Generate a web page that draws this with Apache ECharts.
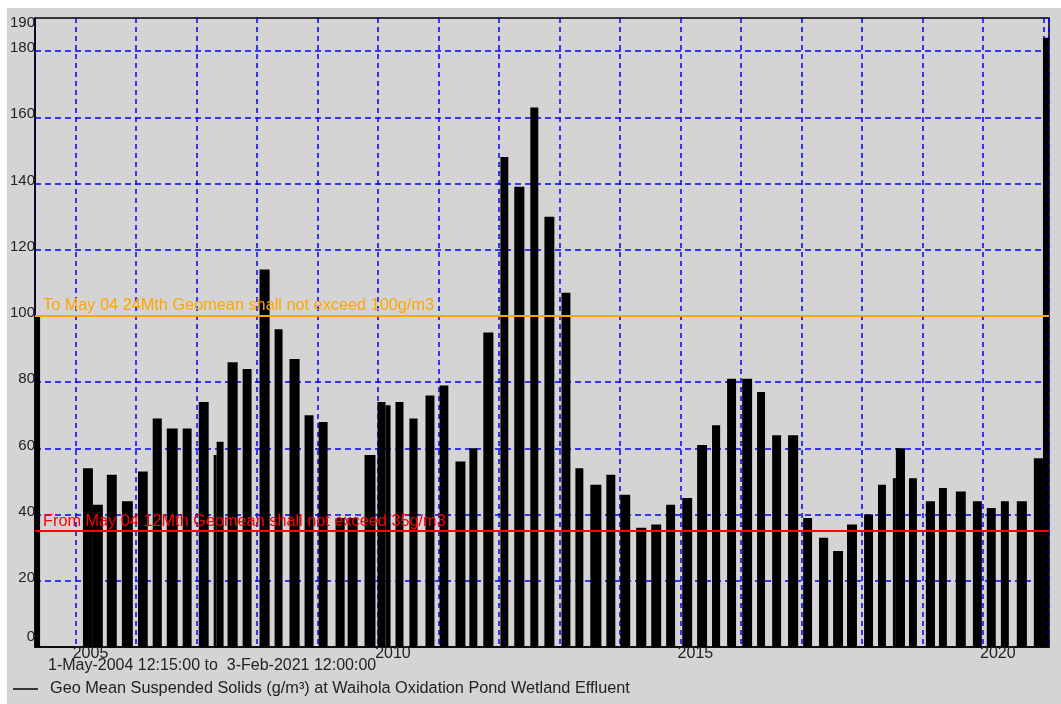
<!DOCTYPE html>
<html>
<head>
<meta charset="utf-8">
<script src="https://cdn.jsdelivr.net/npm/echarts@6/dist/echarts.min.js"></script>
<style>
  html, body { margin: 0; padding: 0; background: #ffffff; }
  #chart { position: absolute; left: 7px; top: 8px; width: 1054px; height: 696px; }
</style>
</head>
<body>
<div id="chart"></div>
<script>
// Geo mean suspended solids, one bar per sampling period (start, end, value g/m3)
const periodStart = [
  '2004-05-01', '2005-02-15', '2005-04-16', '2005-07-09', '2005-10-08',
  '2006-01-13', '2006-04-12', '2006-07-06', '2006-10-10',
  '2007-01-15', '2007-04-15', '2007-05-03', '2007-07-08', '2007-10-07',
  '2008-01-17', '2008-04-17', '2008-07-16', '2008-10-15',
  '2009-01-08', '2009-04-20', '2009-07-02', '2009-10-12', '2009-12-29',
  '2010-02-16', '2010-04-17', '2010-07-10', '2010-10-15',
  '2011-01-08', '2011-04-14', '2011-07-07', '2011-09-29',
  '2012-01-10', '2012-04-03', '2012-07-09', '2012-10-02',
  '2013-01-13', '2013-04-07', '2013-07-06', '2013-10-11',
  '2014-01-03', '2014-04-09', '2014-07-09', '2014-10-07',
  '2015-01-12', '2015-04-12', '2015-07-11', '2015-10-10',
  '2016-01-09', '2016-04-08', '2016-07-08', '2016-10-12',
  '2017-01-11', '2017-04-17', '2017-07-11', '2017-10-03',
  '2018-01-14', '2018-04-08', '2018-07-07', '2018-07-25', '2018-10-12',
  '2019-01-22', '2019-04-11', '2019-07-22', '2019-11-02',
  '2020-01-25', '2020-04-19', '2020-07-24', '2020-11-04', '2020-12-29'
];
const periodEnd = [
  '2004-06-01', '2005-04-16', '2005-06-15', '2005-09-07', '2005-12-13',
  '2006-03-13', '2006-06-06', '2006-09-10', '2006-12-03',
  '2007-03-16', '2007-05-03', '2007-06-14', '2007-09-07', '2007-11-30',
  '2008-03-18', '2008-06-04', '2008-09-15', '2008-12-08',
  '2009-03-03', '2009-06-14', '2009-08-31', '2009-12-17', '2010-02-16',
  '2010-03-18', '2010-06-04', '2010-08-28', '2010-12-08',
  '2011-03-02', '2011-06-13', '2011-08-24', '2011-11-29',
  '2012-02-27', '2012-06-03', '2012-08-26', '2012-12-01',
  '2013-03-08', '2013-05-25', '2013-09-11', '2013-12-04',
  '2014-03-04', '2014-06-09', '2014-09-07', '2014-11-30',
  '2015-03-13', '2015-06-11', '2015-08-29', '2015-12-03',
  '2016-03-09', '2016-05-26', '2016-08-31', '2016-12-12',
  '2017-03-06', '2017-06-11', '2017-09-09', '2017-12-02',
  '2018-03-09', '2018-05-26', '2018-07-25', '2018-09-18', '2018-11-29',
  '2019-03-18', '2019-05-29', '2019-09-20', '2019-12-26',
  '2020-03-19', '2020-06-06', '2020-09-23', '2020-12-29', '2021-02-03'
];
const geoMean = [
  100, 54, 43, 52, 44,
  53, 69, 66, 66,
  74, 58, 62, 86, 84,
  114, 96, 87, 70,
  68, 39, 39, 58, 74,
  73, 74, 69, 76,
  79, 56, 60, 95,
  148, 139, 163, 130,
  107, 54, 49, 52,
  46, 36, 37, 43,
  45, 61, 67, 81,
  81, 77, 64, 64,
  39, 33, 29, 37,
  40, 49, 51, 60, 51,
  44, 48, 47, 44,
  42, 44, 44, 57, 184
];

// Consent limits
const limitValues = [100, 35];
const limitLabels = [
  'To May 04 24Mth Geomean shall not exceed 100g/m3',
  'From May 04 12Mth Geomean shall not exceed 35g/m3'
];
const limitColors = ['#ffa500', '#ff0000'];

const rangeText = '1-May-2004 12:15:00 to  3-Feb-2021 12:00:00';
const seriesName = 'Geo Mean Suspended Solids (g/m\u00b3) at Waihola Oxidation Pond Wetland Effluent';
const yTicks = { min: 0, max: 190, step: 20 };

const FONT = '"Liberation Sans", Arial, sans-serif';
const DAY = 24 * 3600 * 1000;

const barData = periodStart.map((s, i) => [s, periodEnd[i], geoMean[i]]);

const chart = echarts.init(document.getElementById('chart'));

function renderBar(params, api) {
  const top = api.coord([api.value(0), api.value(2)]);
  const bottom = api.coord([api.value(1), 0]);
  const cs = params.coordSys;
  const rect = echarts.graphic.clipRectByRect(
    { x: top[0], y: top[1], width: bottom[0] - top[0], height: bottom[1] - top[1] },
    { x: cs.x, y: cs.y, width: cs.width, height: cs.height }
  );
  return rect && { type: 'rect', shape: rect, style: { fill: '#000000' } };
}

chart.setOption({
  animation: false,
  backgroundColor: '#d4d4d4',
  textStyle: { fontFamily: FONT },
  grid: {
    left: 27, top: 10, right: 12, bottom: 57,
    show: true, borderColor: '#000000', borderWidth: 1.5, backgroundColor: 'transparent'
  },
  legend: {
    left: 6, top: 672, padding: 0,
    icon: 'rect', itemWidth: 25, itemHeight: 1.5,
    data: [seriesName],
    textStyle: { fontSize: 16.3, color: '#222222', lineHeight: 18, padding: [0, 0, 0, 7], fontFamily: FONT }
  },
  graphic: [{
    type: 'text', left: 41, top: 650,
    style: { text: rangeText, font: '16px ' + FONT, fill: '#222222' }
  }],
  xAxis: {
    type: 'time',
    min: '2004-05-01 12:15:00',
    max: '2021-02-03 12:00:00',
    splitNumber: 17,
    minInterval: 365 * DAY,
    maxInterval: 366 * DAY,
    axisLine: { show: true, lineStyle: { color: '#000000', width: 1.5 } },
    axisTick: { show: false },
    axisLabel: {
      fontSize: 16, color: '#222222', fontFamily: FONT,
      align: 'center', margin: 1, lineHeight: 12, hideOverlap: false,
      formatter: function (v) {
        const d = new Date(v);
        const y = d.getFullYear();
        return (d.getMonth() === 0 && d.getDate() === 1 && y % 5 === 0) ? '{t|' + y + '}' : '';
      },
      rich: {
        t: { fontSize: 16, color: '#222222', fontFamily: FONT, lineHeight: 12, padding: [0, 0, 0, 30] }
      }
    },
    splitLine: { show: true, lineStyle: { color: '#0000ff', width: 1.5, type: [5, 4] } }
  },
  yAxis: {
    type: 'value', min: yTicks.min, max: yTicks.max, interval: yTicks.step,
    axisLine: { show: true, lineStyle: { color: '#000000', width: 1.5 } },
    axisTick: { show: false },
    axisLabel: {
      margin: 0, align: 'right', verticalAlign: 'middle',
      formatter: function (v) {
        if (v === yTicks.min) return '{lo|' + v + '}';
        if (v === yTicks.max) return '{hi|' + v + '}';
        return '{n|' + v + '}';
      },
      rich: {
        n: { fontSize: 15, color: '#222222', fontFamily: FONT, padding: [0, 0, 6, 0] },
        lo: { fontSize: 15, color: '#222222', fontFamily: FONT, padding: [0, 0, 20, 0] },
        hi: { fontSize: 15, color: '#222222', fontFamily: FONT, padding: [10, 0, 0, 0] }
      }
    },
    splitLine: {
      show: true, showMinLine: false, showMaxLine: false,
      lineStyle: { color: '#0000ff', width: 1.5, type: [6, 4] }
    }
  },
  series: [{
    name: seriesName,
    type: 'custom',
    clip: true,
    itemStyle: { color: '#000000' },
    dimensions: ['start', 'end', 'value'],
    encode: { x: [0, 1], y: 2 },
    renderItem: renderBar,
    data: barData,
    markLine: {
      silent: true,
      symbol: 'none',
      animation: false,
      data: limitValues.map((v, i) => ({
        yAxis: v,
        lineStyle: { color: limitColors[i], width: 2, type: 'solid' },
        label: {
          show: true, position: 'insideStartTop', distance: [8, 2],
          formatter: limitLabels[i], color: limitColors[i],
          fontSize: 16.3, lineHeight: 16, fontFamily: FONT
        }
      }))
    }
  }]
});
</script>
</body>
</html>
